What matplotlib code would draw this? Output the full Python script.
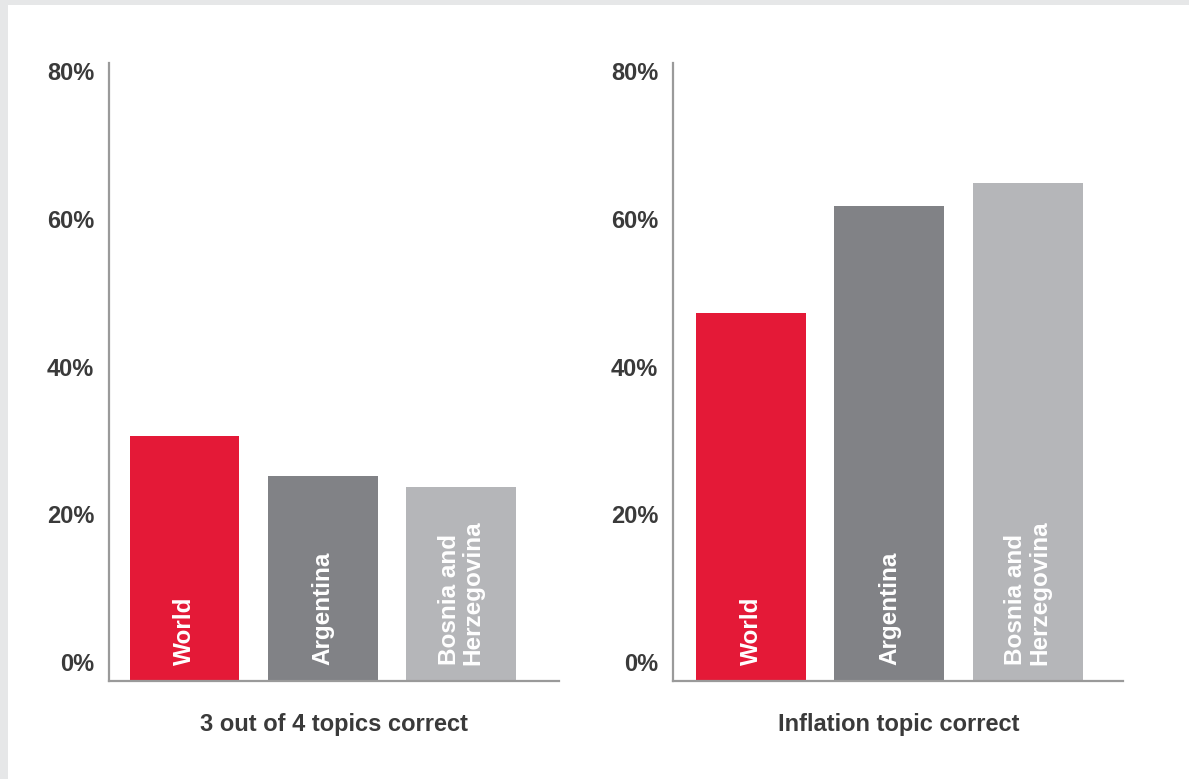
import matplotlib
matplotlib.use("Agg")
import matplotlib.pyplot as plt
from matplotlib.patches import Rectangle
from matplotlib.transforms import ScaledTranslation

plt.rcParams['font.family'] = ['Liberation Sans', 'DejaVu Sans']
plt.rcParams['font.weight'] = 'bold'

countries = ['World', 'Argentina', 'Bosnia and\nHerzegovina']
three_of_four = [33.2, 27.8, 26.3]
inflation = [49.9, 64.4, 67.4]
panel_titles = ['3 out of 4 topics correct', 'Inflation topic correct']
ticks = [0, 20, 40, 60, 80]
tick_labels = ['0%', '20%', '40%', '60%', '80%']

colors = ['#e41937', '#818286', '#b5b6b9']
text_col = '#3a3a3a'
spine_col = '#9a9a9a'

W, H = 1189, 779
fig = plt.figure(figsize=(W / 100, H / 100), dpi=100)
fig.patch.set_facecolor('#e6e7e8')
# white card on the grey page
fig.add_artist(Rectangle((8 / W, 0), 1 - 8 / W, (H - 5) / H,
                         transform=fig.transFigure, facecolor='white',
                         edgecolor='none', zorder=-10))

lefts = [109.3, 673.3]
xmins = [-0.543, -0.561]
for i, vals in enumerate([three_of_four, inflation]):
    ax = fig.add_axes([lefts[i] / W, 98 / H, 450 / W, 618 / H])
    ax.set_facecolor('none')
    ax.bar(range(3), vals, width=0.794, color=colors, zorder=2)
    ax.set_xlim(xmins[i], xmins[i] + 3.25)
    ax.set_ylim(0, 83.7)
    for s in ['top', 'right']:
        ax.spines[s].set_visible(False)
    for s in ['left', 'bottom']:
        ax.spines[s].set_color(spine_col)
        ax.spines[s].set_linewidth(1.6)
    ax.set_xticks([])
    ax.set_yticks(ticks)
    ax.set_yticklabels(tick_labels, fontsize=17, fontweight='bold', color=text_col)
    ax.tick_params(axis='y', length=0, pad=11)
    off = ScaledTranslation(0, 19 / 100, fig.dpi_scale_trans)
    for lab in ax.get_yticklabels():
        lab.set_transform(lab.get_transform() + off)

    for j, name in enumerate(countries):
        ax.text(j, 2.2, name, rotation=90, ha='center', va='bottom',
                multialignment='left', color='white', fontsize=17.5,
                fontweight='bold', linespacing=1.05, zorder=3)

    ax.text(0.5, -0.07, panel_titles[i], transform=ax.transAxes,
            ha='center', va='center', fontsize=17, fontweight='bold',
            color=text_col)

fig.savefig('out.png', dpi=100, facecolor=fig.get_facecolor())
